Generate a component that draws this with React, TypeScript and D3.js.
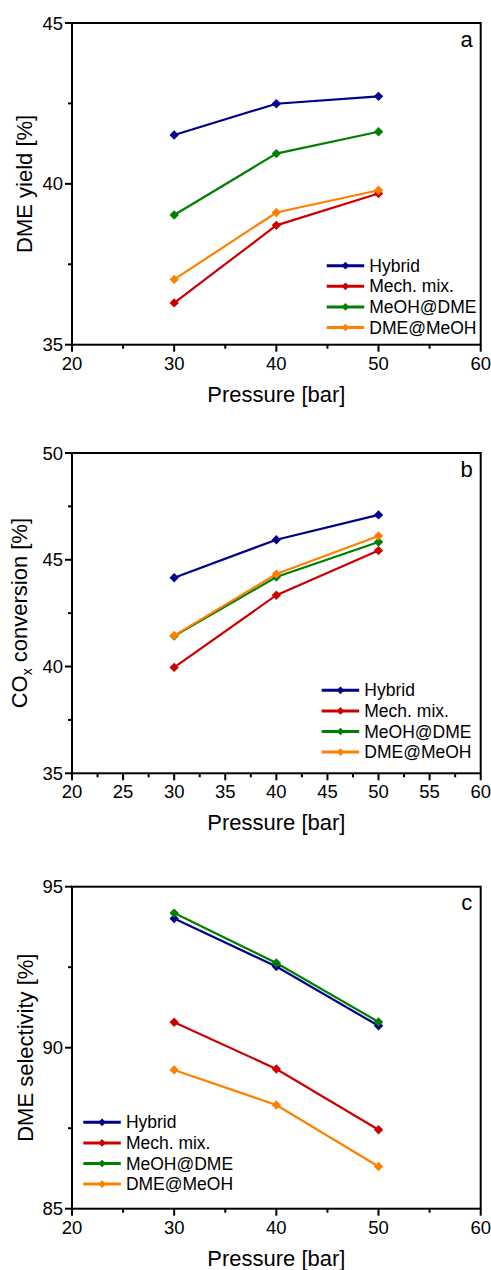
import * as d3 from "d3";

// pressures (bar)
const pressures = [30, 40, 50];

const seriesNames = ["Hybrid", "Mech. mix.", "MeOH@DME", "DME@MeOH"];
const seriesColors = ["#00008b", "#cc0000", "#008000", "#ff8000"];

// panel a: DME yield [%]
const yieldHybrid = [41.52, 42.49, 42.72];
const yieldMech = [36.3, 38.71, 39.7];
const yieldMeohDme = [39.03, 40.94, 41.62];
const yieldDmeMeoh = [37.03, 39.11, 39.8];

// panel b: COx conversion [%]
const convHybrid = [44.16, 45.94, 47.1];
const convMech = [39.96, 43.34, 45.43];
const convMeohDme = [41.43, 44.19, 45.83];
const convDmeMeoh = [41.45, 44.33, 46.11];

// panel c: DME selectivity [%]
const selHybrid = [94.01, 92.52, 90.68];
const selMech = [90.79, 89.34, 87.45];
const selMeohDme = [94.18, 92.63, 90.8];
const selDmeMeoh = [89.31, 88.22, 86.31];

const FONT = "'Liberation Sans', Arial, Helvetica, sans-serif";

const panels = [
  {
    letter: "a",
    top: 23,
    bottom: 344.7,
    yDomain: [35, 45],
    yMajor: [35, 40, 45],
    yMinor: [37.5, 42.5],
    xMajor: [20, 30, 40, 50, 60],
    xMinor: [25, 35, 45, 55],
    title: "yield",
    labelX: 32,
    values: [yieldHybrid, yieldMech, yieldMeohDme, yieldDmeMeoh],
    legend: { x: 326.7, y: 265.7 },
  },
  {
    letter: "b",
    top: 453,
    bottom: 773.3,
    yDomain: [35, 50],
    yMajor: [35, 40, 45, 50],
    yMinor: [37.5, 42.5, 47.5],
    xMajor: [20, 25, 30, 35, 40, 45, 50, 55, 60],
    xMinor: [22.5, 27.5, 32.5, 37.5, 42.5, 47.5, 52.5, 57.5],
    title: "conv",
    labelX: 27,
    values: [convHybrid, convMech, convMeohDme, convDmeMeoh],
    legend: { x: 321.7, y: 690.3 },
  },
  {
    letter: "c",
    top: 886.7,
    bottom: 1208.7,
    yDomain: [85, 95],
    yMajor: [85, 90, 95],
    yMinor: [87.5, 92.5],
    xMajor: [20, 30, 40, 50, 60],
    xMinor: [25, 35, 45, 55],
    title: "sel",
    labelX: 32.5,
    values: [selHybrid, selMech, selMeohDme, selDmeMeoh],
    legend: { x: 83.3, y: 1122.3 },
  },
];

const LEFT = 72;
const RIGHT = 480.7;

const diamond = d3.symbol().type(d3.symbolSquare).size(44)();
const diamondSmall = d3.symbol().type(d3.symbolSquare).size(30)();

function Panel({ p }: { p: any }) {
  const x = d3.scaleLinear().domain([20, 60]).range([LEFT, RIGHT]);
  const y = d3.scaleLinear().domain(p.yDomain).range([p.bottom, p.top]);
  const line = d3
    .line<number>()
    .x((_, i) => x(pressures[i]))
    .y((d) => y(d));
  const midY = (p.top + p.bottom) / 2;

  return (
    <g fontFamily={FONT}>
      {/* series */}
      {p.values.map((vals: number[], s: number) => (
        <g key={s}>
          <path d={line(vals) || ""} fill="none" stroke={seriesColors[s]} strokeWidth={2.2} />
          {vals.map((v, i) => (
            <path
              key={i}
              d={diamond}
              transform={`translate(${x(pressures[i])},${y(v)}) rotate(45)`}
              fill={seriesColors[s]}
            />
          ))}
        </g>
      ))}

      {/* frame */}
      <rect
        x={LEFT}
        y={p.top}
        width={RIGHT - LEFT}
        height={p.bottom - p.top}
        fill="none"
        stroke="#000"
        strokeWidth={2}
      />

      {/* y ticks */}
      {p.yMajor.map((t: number) => (
        <g key={"ym" + t}>
          <line x1={LEFT - 7} x2={LEFT} y1={y(t)} y2={y(t)} stroke="#000" strokeWidth={2} />
          <text x={LEFT - 9} y={y(t) + 6.5} textAnchor="end" fontSize={18.5}>
            {t}
          </text>
        </g>
      ))}
      {p.yMinor.map((t: number) => (
        <line key={"yn" + t} x1={LEFT - 4} x2={LEFT} y1={y(t)} y2={y(t)} stroke="#000" strokeWidth={2} />
      ))}

      {/* x ticks */}
      {p.xMajor.map((t: number) => (
        <g key={"xm" + t}>
          <line x1={x(t)} x2={x(t)} y1={p.bottom} y2={p.bottom + 7} stroke="#000" strokeWidth={2} />
          <text x={x(t)} y={p.bottom + 25} textAnchor="middle" fontSize={18.5}>
            {t}
          </text>
        </g>
      ))}
      {p.xMinor.map((t: number) => (
        <line key={"xn" + t} x1={x(t)} x2={x(t)} y1={p.bottom} y2={p.bottom + 4} stroke="#000" strokeWidth={2} />
      ))}

      {/* axis titles */}
      <text x={(LEFT + RIGHT) / 2} y={p.bottom + 57} textAnchor="middle" fontSize={22}>
        Pressure [bar]
      </text>
      <text
        transform={`translate(${p.labelX},${midY}) rotate(-90)`}
        textAnchor="middle"
        fontSize={22}
      >
        {p.title === "yield" && "DME yield [%]"}
        {p.title === "sel" && "DME selectivity [%]"}
        {p.title === "conv" && (
          <>
            CO
            <tspan fontSize={14} dy={5}>
              x
            </tspan>
            <tspan dy={-5}> conversion [%]</tspan>
          </>
        )}
      </text>

      {/* panel letter */}
      <text x={466.7} y={p.top + 23.5} textAnchor="middle" fontSize={22}>
        {p.letter}
      </text>

      {/* legend */}
      {seriesNames.map((name, s) => {
        const ly = p.legend.y + s * 20.6;
        return (
          <g key={name}>
            <line
              x1={p.legend.x}
              x2={p.legend.x + 37.5}
              y1={ly}
              y2={ly}
              stroke={seriesColors[s]}
              strokeWidth={3}
            />
            <path
              d={diamondSmall}
              transform={`translate(${p.legend.x + 18.75},${ly}) rotate(45)`}
              fill={seriesColors[s]}
            />
            <text x={p.legend.x + 42.6} y={ly + 6} fontSize={17.5}>
              {name}
            </text>
          </g>
        );
      })}
    </g>
  );
}

export default function App() {
  return (
    <svg
      width={491}
      height={1270}
      style={{ position: "absolute", left: 0, top: 0, background: "#fff" }}
    >
      {panels.map((p) => (
        <Panel key={p.letter} p={p} />
      ))}
    </svg>
  );
}
